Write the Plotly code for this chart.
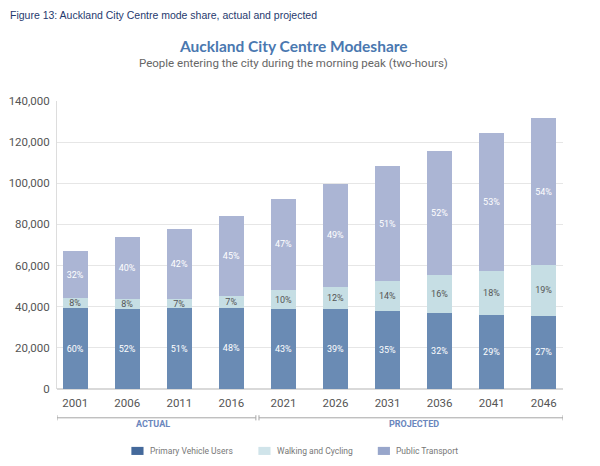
import plotly.graph_objects as go

years = ["2001", "2006", "2011", "2016", "2021", "2026", "2031", "2036", "2041", "2046"]

# people entering the city centre, morning peak (two hours)
vehicle_users = [39200, 38900, 39200, 39500, 38900, 38900, 37900, 36800, 36100, 35500]
walking_cycling = [5000, 4700, 4500, 5700, 9200, 10700, 14800, 18600, 21400, 24900]
public_transport = [22700, 30400, 34200, 38900, 44300, 50200, 55500, 60500, 67100, 71200]

vehicle_pct = ["60%", "52%", "51%", "48%", "43%", "39%", "35%", "32%", "29%", "27%"]
walking_pct = ["8%", "8%", "7%", "7%", "10%", "12%", "14%", "16%", "18%", "19%"]
transport_pct = ["32%", "40%", "42%", "45%", "47%", "49%", "51%", "52%", "53%", "54%"]

periods = ["ACTUAL", "PROJECTED"]

colors = {"Primary Vehicle Users": "#6a8bb4",
          "Walking and Cycling": "#c6dee4",
          "Public Transport": "#abb5d4"}
swatch_colors = {"Primary Vehicle Users": "#44699b",
                 "Walking and Cycling": "#d0e4ea",
                 "Public Transport": "#98a6cb"}
label_colors = {"Primary Vehicle Users": "white",
                "Walking and Cycling": "#555555",
                "Public Transport": "white"}

series = [("Primary Vehicle Users", vehicle_users, vehicle_pct),
          ("Walking and Cycling", walking_cycling, walking_pct),
          ("Public Transport", public_transport, transport_pct)]

xs = list(range(len(years)))

fig = go.Figure()
for name, values, pct in series:
    fig.add_trace(go.Bar(x=xs, y=values, name=name, text=pct,
                         textposition="inside", insidetextanchor="middle",
                         textfont=dict(size=9, color=label_colors[name], family="Roboto"),
                         marker=dict(color=colors[name], line=dict(width=0)),
                         hoverinfo="skip"))

# page body adds 8px on the left/top, so the figure is 8px smaller
fig.update_layout(
    barmode="stack", bargap=0.52,
    width=592, height=458,
    margin=dict(l=49, r=37, t=93, b=77),
    paper_bgcolor="white", plot_bgcolor="white",
    font=dict(family="Roboto", size=11, color="#595959"),
    uniformtext=dict(minsize=9, mode="show"),
    showlegend=False,
)

fig.update_xaxes(tickvals=xs, ticktext=years, range=[-0.35, 9.37], showgrid=False,
                 showline=False, zeroline=False, ticklabelstandoff=5, automargin=False,
                 tickfont=dict(size=11.5, color="#555555"))
fig.update_yaxes(range=[0, 140000], dtick=20000, tickformat=",", showgrid=True,
                 gridcolor="#e6e6e6", gridwidth=1, zeroline=True, zerolinecolor="#d9d9d9",
                 showline=True, linecolor="#dddddd", linewidth=1, ticks="",
                 ticklabelstandoff=4, automargin=False,
                 tickfont=dict(size=11.5, color="#555555"))

# period brackets under the year labels
brackets = [(-0.35, 3.47), (3.53, 9.37)]
line_style = dict(color="#a6a6a6", width=1)
for (x0, x1), period in zip(brackets, periods):
    fig.add_shape(type="line", xref="x", yref="paper", x0=x0, x1=x1, y0=-0.100, y1=-0.100,
                  line=line_style)
    for xe in (x0, x1):
        fig.add_shape(type="line", xref="x", yref="paper", x0=xe, x1=xe, y0=-0.091, y1=-0.109,
                      line=line_style)
    fig.add_annotation(x=1.5 if period == "ACTUAL" else 6.5, xref="x",
                       y=-0.145, yref="paper", text="<b>%s</b>" % period, showarrow=False,
                       font=dict(size=9, color="#6a86bd", family="Roboto"))

# legend drawn by hand (a plotly legend here pushes the bottom margin)
legend_x = [0.147, 0.398, 0.634]
for (name, _, _), lx in zip(series, legend_x):
    fig.add_shape(type="rect", xref="paper", yref="paper", x0=lx, x1=lx + 0.024,
                  y0=-0.229, y1=-0.201, fillcolor=swatch_colors[name], line=dict(width=0))
    fig.add_annotation(x=lx + 0.032, xref="paper", y=-0.215, yref="paper", xanchor="left",
                       yanchor="middle", showarrow=False, text=name,
                       font=dict(size=8.5, color="#777777"))

fig.add_annotation(x=-0.097, xref="paper", y=1.299, yref="paper", xanchor="left",
                   yanchor="middle", showarrow=False,
                   text="Figure 13: Auckland City Centre mode share, actual and projected",
                   font=dict(family="Liberation Sans, Arial", size=10.5, color="#1f3a6e"))
fig.add_annotation(x=0.468, xref="paper", y=1.191, yref="paper", xanchor="center",
                   yanchor="middle", showarrow=False,
                   text="<b>Auckland City Centre Modeshare</b>",
                   font=dict(family="Lato", size=15.5, color="#4a78b0"))
fig.add_annotation(x=0.468, xref="paper", y=1.132, yref="paper", xanchor="center",
                   yanchor="middle", showarrow=False,
                   text="People entering the city during the morning peak (two-hours)",
                   font=dict(family="Roboto", size=11.5, color="#666666"))

fig.write_html("out.html")
